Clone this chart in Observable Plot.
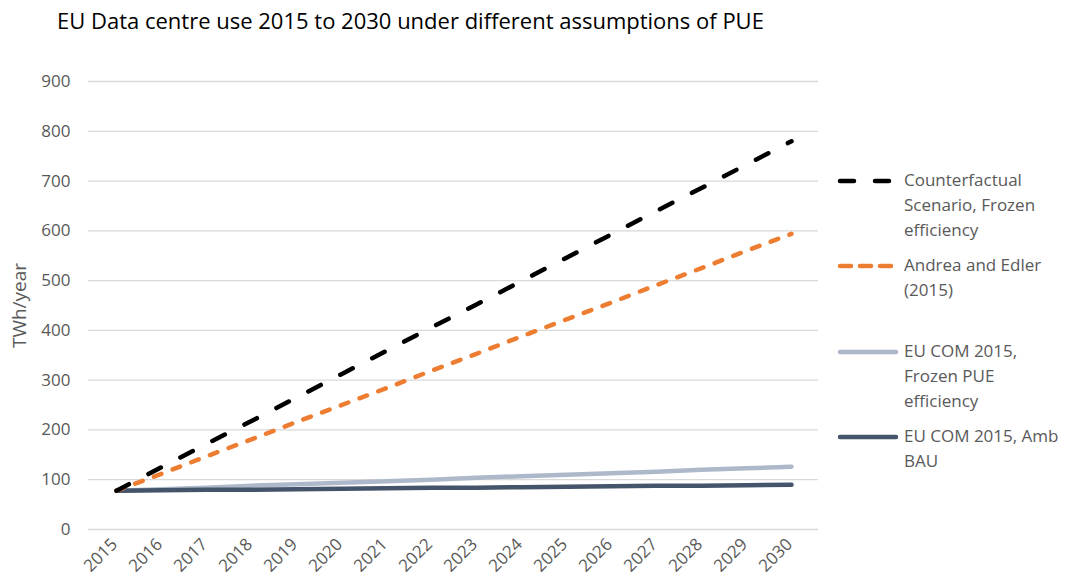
<!DOCTYPE html>
<html>
<head>
<meta charset="utf-8">
<script src="https://cdn.jsdelivr.net/npm/d3@7"></script>
<script src="https://cdn.jsdelivr.net/npm/@observablehq/plot@0.6"></script>
<style>
  body { margin: 0; background: #fff; font-family: "Open Sans", Lato, sans-serif; }
  #wrap { position: relative; width: 1071px; height: 587px; overflow: hidden; }
  #title { position: absolute; left: 57px; top: 5px; font-size: 22px; color: #000; white-space: nowrap; }
  #legend { position: absolute; left: 837px; top: 0; width: 234px; }
  .item { position: absolute; left: 0; display: flex; align-items: flex-start; }
  .item svg { flex: none; margin-right: 5px; }
  .item div { font-size: 17px; line-height: 25px; color: #595959; white-space: nowrap; }
</style>
</head>
<body>
<div id="wrap">
  <div id="title">EU Data centre use 2015 to 2030 under different assumptions of PUE</div>
  <div id="legend"></div>
</div>
<script>
const years = ["2015","2016","2017","2018","2019","2020","2021","2022","2023","2024","2025","2026","2027","2028","2029","2030"];
const counterfactual = [78,125,172,218,265,312,359,406,452,499,546,593,640,686,733,780];
const andreaEdler   = [78,112,147,181,216,250,284,319,353,388,422,456,491,525,560,594];
const euComFrozen   = [78,81,84,88,91,94,97,100,104,107,110,113,116,120,123,126];
const euComAmbBau   = [78,79,80,80,81,82,83,84,84,85,86,87,88,88,89,90];
const seriesNames = [
  "Counterfactual Scenario, Frozen efficiency",
  "Andrea and Edler (2015)",
  "EU COM 2015, Frozen PUE efficiency",
  "EU COM 2015, Amb BAU"
];
const legendLines = [
  ["Counterfactual", "Scenario, Frozen", "efficiency"],
  ["Andrea and Edler", "(2015)"],
  ["EU COM 2015,", "Frozen PUE", "efficiency"],
  ["EU COM 2015, Amb", "BAU"]
];
const yTicks = [0,100,200,300,400,500,600,700,800,900];

const styles = [
  {stroke: "#000000", dash: "14,22", legendDash: "14,21"},
  {stroke: "#ED7D31", dash: "8,12", legendDash: "11,9"},
  {stroke: "#ADB9CA", dash: null, legendDash: null},
  {stroke: "#44546A", dash: null, legendDash: null}
];
const values = [counterfactual, andreaEdler, euComFrozen, euComAmbBau];
const tables = values.map((vals, i) => years.map((y, j) => ({year: y, value: vals[j], series: seriesNames[i]})));

const drawOrder = [2, 3, 1, 0];

const chart = Plot.plot({
  width: 1071,
  height: 587,
  marginLeft: 88,
  marginRight: 253,
  marginTop: 81,
  marginBottom: 58,
  style: {fontFamily: "'Open Sans', Lato, sans-serif", fontSize: "16px", color: "#595959", background: "transparent"},
  x: {type: "point", domain: years, padding: 0.5},
  y: {domain: [0, 900]},
  marks: [
    Plot.gridY(yTicks, {stroke: "#D9D9D9", strokeOpacity: 1, strokeWidth: 1.3}),
    Plot.axisY(yTicks, {tickSize: 0, tickPadding: 18, fontSize: 17, fill: "#595959",
      label: "TWh/year", labelAnchor: "center", labelArrow: "none", labelOffset: 76}),
    Plot.axisX({tickSize: 0, tickRotate: -45, tickPadding: 12, dx: -2, fontSize: 17, fill: "#595959", label: null}),
    ...drawOrder.map(i => Plot.lineY(tables[i], {
      x: "year", y: "value",
      stroke: styles[i].stroke, strokeWidth: 4.5,
      strokeDasharray: styles[i].dash || undefined,
      strokeLinecap: "round", strokeLinejoin: "round"
    }))
  ]
});
document.getElementById("wrap").prepend(chart);
chart.style.position = "absolute";
chart.style.left = "0";
chart.style.top = "0";
chart.querySelectorAll("g[aria-label='y-axis label'] text, g[aria-label='y-axis label']").forEach(el => el.setAttribute("font-size", "19"));

const legendTops = [167, 252, 338, 423];
const legend = document.getElementById("legend");
legendLines.forEach((lines, i) => {
  const item = document.createElement("div");
  item.className = "item";
  item.style.top = legendTops[i] + "px";
  const s = styles[i];
  item.innerHTML = `<svg width="62" height="25"><line x1="3" y1="14" x2="59" y2="14" stroke="${s.stroke}" stroke-width="4.5" stroke-linecap="round" ${s.legendDash ? `stroke-dasharray="${s.legendDash}"` : ""}/></svg><div>${lines.join("<br>")}</div>`;
  legend.appendChild(item);
});
</script>
</body>
</html>
